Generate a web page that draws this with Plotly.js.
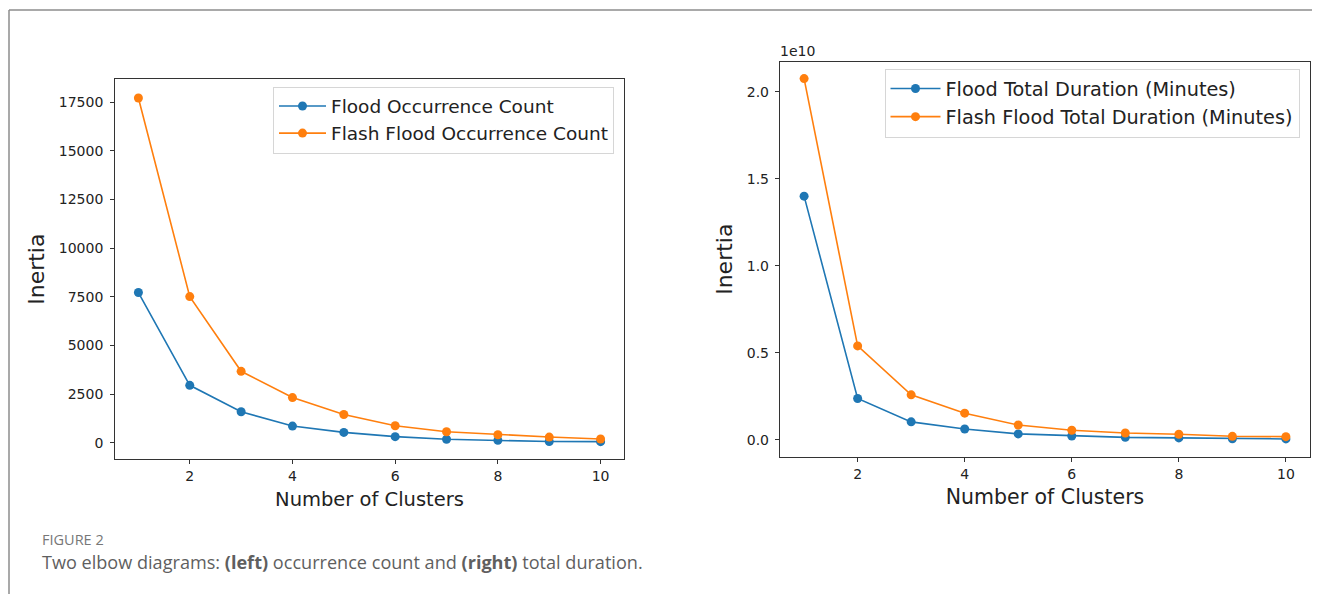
<!DOCTYPE html>
<html>
<head>
<meta charset="utf-8">
<script src="https://cdn.plot.ly/plotly-3.0.1.min.js"></script>
<style>
html,body{margin:0;padding:0;background:#fff;}
#chart{width:1322px;height:594px;}
</style>
</head>
<body>
<div id="chart"></div>
<script>
// ---- data ----
const clusters = [1, 2, 3, 4, 5, 6, 7, 8, 9, 10];
const floodOccurrence = [7720, 2950, 1590, 855, 530, 310, 175, 120, 60, 55];
const flashOccurrence = [17720, 7510, 3670, 2320, 1450, 870, 565, 410, 290, 190];
const floodDuration = [1.40e10, 0.238e10, 0.104e10, 0.063e10, 0.035e10, 0.023e10, 0.015e10, 0.012e10, 0.007e10, 0.006e10];
const flashDuration = [2.075e10, 0.540e10, 0.259e10, 0.154e10, 0.086e10, 0.056e10, 0.040e10, 0.033e10, 0.021e10, 0.019e10];
const xTicks = [2, 4, 6, 8, 10];
const leftYTicks = [0, 2500, 5000, 7500, 10000, 12500, 15000, 17500];
const rightYTickLabels = ['0.0', '0.5', '1.0', '1.5', '2.0'];
const seriesNames = ['Flood Occurrence Count', 'Flash Flood Occurrence Count',
                     'Flood Total Duration (Minutes)', 'Flash Flood Total Duration (Minutes)'];

const BLUE = '#1f77b4', ORANGE = '#ff7f0e';
const W = 1322, H = 594;
const px = v => v / W;
const py = v => 1 - v / H;

function trace(x, y, name, color, xa, ya, lg) {
  return {x: x, y: y, name: name, type: 'scatter', mode: 'lines+markers',
    line: {color: color, width: 1.6}, marker: {color: color, size: 9},
    xaxis: xa, yaxis: ya, legend: lg};
}
const data = [
  trace(clusters, floodOccurrence, seriesNames[0], BLUE, 'x', 'y', 'legend'),
  trace(clusters, flashOccurrence, seriesNames[1], ORANGE, 'x', 'y', 'legend'),
  trace(clusters, floodDuration, seriesNames[2], BLUE, 'x2', 'y2', 'legend2'),
  trace(clusters, flashDuration, seriesNames[3], ORANGE, 'x2', 'y2', 'legend2')
];

const tickFont = {family: 'DejaVu Sans', size: 14, color: '#222'};
const axBase = {showline: true, mirror: true, linecolor: '#333', linewidth: 1.2,
  ticks: 'outside', ticklen: 4, tickcolor: '#333', tickwidth: 1,
  showgrid: false, zeroline: false, tickfont: tickFont};

const layout = {
  width: W, height: H,
  margin: {l: 0, r: 0, t: 0, b: 0},
  paper_bgcolor: '#fff', plot_bgcolor: '#fff',
  showlegend: true,
  xaxis: Object.assign({}, axBase, {domain: [px(115.3), px(623.7)], range: [0.55, 10.45],
    tickvals: xTicks, anchor: 'y',
    title: {text: 'Number of Clusters', font: {family: 'DejaVu Sans', size: 19.5, color: '#222'}, standoff: 9}}),
  yaxis: Object.assign({}, axBase, {domain: [py(459), py(79.3)], range: [-838, 18682],
    tickvals: leftYTicks, tickformat: 'd', anchor: 'x', ticklabelstandoff: 4,
    title: {text: 'Inertia', font: {family: 'DejaVu Sans', size: 22, color: '#222'}, standoff: 8}}),
  xaxis2: Object.assign({}, axBase, {domain: [px(780), px(1310)], range: [0.55, 10.45],
    tickvals: xTicks, anchor: 'y2',
    title: {text: 'Number of Clusters', font: {family: 'DejaVu Sans', size: 20.5, color: '#222'}, standoff: 9}}),
  yaxis2: Object.assign({}, axBase, {domain: [py(456.7), py(61.7)], range: [-0.096e10, 2.172e10],
    tickvals: rightYTickLabels.map(t => parseFloat(t) * 1e10), ticktext: rightYTickLabels, anchor: 'x2',
    ticklabelstandoff: 3,
    title: {text: 'Inertia', font: {family: 'DejaVu Sans', size: 22, color: '#222'}, standoff: 8}}),
  legend: {x: px(273), y: py(86.5), xanchor: 'left', yanchor: 'top',
    bgcolor: '#fff', bordercolor: '#d6d6d6', borderwidth: 1, itemwidth: 47,
    font: {family: 'DejaVu Sans', size: 18.5, color: '#222'}},
  legend2: {x: px(884.5), y: py(68.5), xanchor: 'left', yanchor: 'top',
    bgcolor: '#fff', bordercolor: '#d6d6d6', borderwidth: 1, itemwidth: 50,
    font: {family: 'DejaVu Sans', size: 19.3, color: '#222'}},
  shapes: [
    {type: 'line', xref: 'paper', yref: 'paper', x0: px(9), x1: px(1312), y0: py(10), y1: py(10),
      line: {color: '#8c8c8c', width: 1.5}},
    {type: 'line', xref: 'paper', yref: 'paper', x0: px(9), x1: px(9), y0: py(10), y1: py(594),
      line: {color: '#8c8c8c', width: 1.5}}
  ],
  annotations: [
    {text: '1e10', xref: 'paper', yref: 'paper', x: px(778), y: py(50.7), xanchor: 'left', yanchor: 'middle',
      showarrow: false, font: {family: 'DejaVu Sans', size: 14, color: '#222'}},
    {text: 'FIGURE 2', xref: 'paper', yref: 'paper', x: px(40), y: py(539.5), xanchor: 'left', yanchor: 'middle',
      showarrow: false, font: {family: 'Open Sans', size: 14.5, color: '#777'}},
    {text: 'Two elbow diagrams: <b>(left)</b> occurrence count and <b>(right)</b> total duration.',
      xref: 'paper', yref: 'paper', x: px(40), y: py(561.5), xanchor: 'left', yanchor: 'middle',
      showarrow: false, font: {family: 'Open Sans', size: 18.1, color: '#5f5f5f'}}
  ]
};

Plotly.newPlot('chart', data, layout, {staticPlot: true, displayModeBar: false});
</script>
</body>
</html>
